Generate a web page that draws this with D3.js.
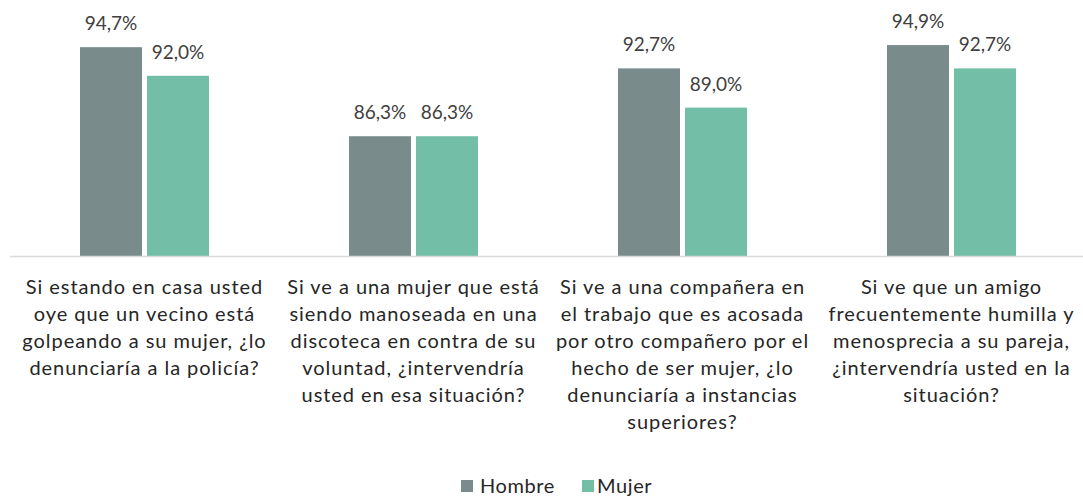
<!DOCTYPE html>
<html>
<head>
<meta charset="utf-8">
<script src="https://cdn.jsdelivr.net/npm/d3@7"></script>
<style>
  html, body { margin: 0; padding: 0; background: #ffffff; }
  svg { display: block; }
</style>
</head>
<body>
<svg id="chart" width="1083" height="498"></svg>
<script>
// Survey questions (axis categories), pre-split into lines
const categories = [
  ["Si estando en casa usted", "oye que un vecino está", "golpeando a su mujer, ¿lo", "denunciaría a la policía?"],
  ["Si ve a una mujer que está", "siendo manoseada en una", "discoteca en contra de su", "voluntad, ¿intervendría", "usted en esa situación?"],
  ["Si ve a una compañera en", "el trabajo que es acosada", "por otro compañero por el", "hecho de ser mujer, ¿lo", "denunciaría a instancias", "superiores?"],
  ["Si ve que un amigo", "frecuentemente humilla y", "menosprecia a su pareja,", "¿intervendría usted en la", "situación?"]
];
const seriesNames = ["Hombre", "Mujer"];
const hombre = [94.7, 86.3, 92.7, 94.9];
const mujer  = [92.0, 86.3, 89.0, 92.7];
const colors = ["#798B8B", "#73BEA6"];

const svg = d3.select("#chart");
const baseY = 256;
const font = "Lato, 'Open Sans', sans-serif";

const x = d3.scaleBand()
  .domain(d3.range(categories.length))
  .range([10, 1086])
  .paddingInner(0)
  .paddingOuter(0);

const y = d3.scaleLinear().domain([75, 95]).range([baseY, baseY - 212]);

const barW = 62, gap = 5;
const series = [hombre, mujer];
const fmt = v => d3.format(".1f")(v).replace(".", ",") + "%";

categories.forEach((c, i) => {
  const groupX = x(i) + x.bandwidth() / 2 - (barW * 2 + gap) / 2;
  series.forEach((vals, s) => {
    const bx = groupX + s * (barW + gap);
    svg.append("rect")
      .attr("x", bx)
      .attr("y", y(vals[i]))
      .attr("width", barW)
      .attr("height", baseY - y(vals[i]))
      .attr("fill", colors[s]);
    svg.append("text")
      .attr("x", bx + barW / 2)
      .attr("y", y(vals[i]) - 17)
      .attr("text-anchor", "middle")
      .attr("font-family", font)
      .attr("font-size", 19)
      .attr("fill", "#404040")
      .text(fmt(vals[i]));
  });
});

// category axis
svg.append("line")
  .attr("x1", 10).attr("x2", 1083)
  .attr("y1", baseY + 0.5).attr("y2", baseY + 0.5)
  .attr("stroke", "#D9D9D9").attr("stroke-width", 1.5);

categories.forEach((lines, i) => {
  const t = svg.append("text")
    .attr("text-anchor", "middle")
    .attr("font-family", font)
    .attr("font-size", 20)
    .attr("letter-spacing", "0.95px")
    .attr("fill", "#262626");
  lines.forEach((ln, k) => {
    t.append("tspan")
      .attr("x", x(i) + x.bandwidth() / 2)
      .attr("y", 294 + k * 27)
      .text(ln);
  });
});

// legend
const legend = [{ name: seriesNames[0], sx: 461, tx: 480 }, { name: seriesNames[1], sx: 582, tx: 597 }];
legend.forEach((l, s) => {
  svg.append("rect")
    .attr("x", l.sx).attr("y", 480)
    .attr("width", 12).attr("height", 12)
    .attr("fill", colors[s]);
  svg.append("text")
    .attr("x", l.tx).attr("y", 493)
    .attr("font-family", font)
    .attr("font-size", 20)
    .attr("letter-spacing", "0.6px")
    .attr("fill", "#262626")
    .text(l.name);
});
</script>
</body>
</html>
